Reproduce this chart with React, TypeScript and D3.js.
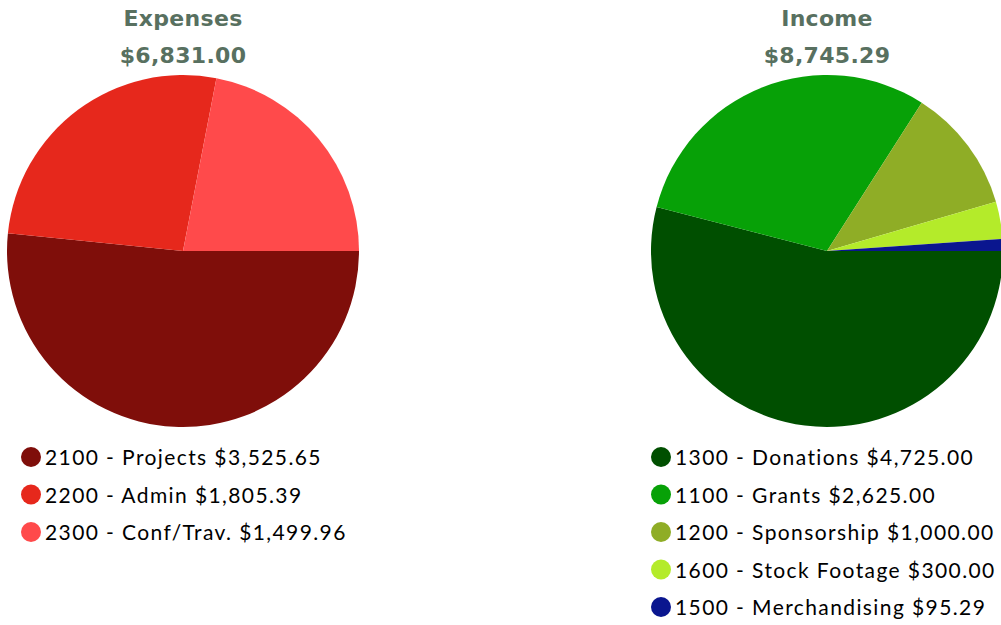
import React from "react";
import * as d3 from "d3";

const expenseLabels = ["2100 - Projects", "2200 - Admin", "2300 - Conf/Trav."];
const expenseValues = [3525.65, 1805.39, 1499.96];
const expenseColors = ["#7f0e0a", "#e6281c", "#ff4a4b"];

const incomeLabels = ["1300 - Donations", "1100 - Grants", "1200 - Sponsorship", "1600 - Stock Footage", "1500 - Merchandising"];
const incomeValues = [4725.0, 2625.0, 1000.0, 300.0, 95.29];
const incomeColors = ["#004f00", "#07a107", "#8fad26", "#b4eb2a", "#0a168f"];

const fmt = d3.format("$,.2f");

type PieProps = {
  title: string;
  labels: string[];
  values: number[];
  colors: string[];
  cx: number;
  legendX: number;
};

function Pie({ title, labels, values, colors, cx, legendX }: PieProps) {
  const cy = 251;
  const r = 176;
  const total = d3.sum(values);
  const pie = d3
    .pie<number>()
    .sort(null)
    .startAngle(Math.PI / 2)
    .endAngle(Math.PI / 2 + 2 * Math.PI);
  const arcs = pie(values);
  const arc = d3.arc<d3.PieArcDatum<number>>().innerRadius(0).outerRadius(r);
  const legendY = d3.scalePoint<number>().domain(d3.range(5)).range([457, 457 + 4 * 37.5]);
  const titleStyle = { letterSpacing: "0.3px" };
  return (
    <g>
      <text x={cx} y={26} textAnchor="middle" fontFamily="'DejaVu Sans', sans-serif" fontWeight={700} fontSize={22} fill="#587060" style={titleStyle}>
        {title}
      </text>
      <text x={cx} y={63} textAnchor="middle" fontFamily="'DejaVu Sans', sans-serif" fontWeight={700} fontSize={22} fill="#587060" style={titleStyle}>
        {fmt(total)}
      </text>
      <g transform={`translate(${cx},${cy})`}>
        {arcs.map((a, i) => (
          <path key={i} d={arc(a) || ""} fill={colors[i]} />
        ))}
      </g>
      {labels.map((l, i) => (
        <g key={l} transform={`translate(${legendX},${legendY(i)})`}>
          <circle cx={0} cy={0} r={10} fill={colors[i]} />
          <text x={14} y={8} fontFamily="Lato, 'DejaVu Sans', sans-serif" fontSize={21} fill="#000" style={{ letterSpacing: "1.4px" }}>
            {`${l} ${fmt(values[i])}`}
          </text>
        </g>
      ))}
    </g>
  );
}

export default function App() {
  return (
    <svg width={1001} height={625} style={{ position: "absolute", left: 0, top: 0, background: "#fff" }}>
      <Pie title="Expenses" labels={expenseLabels} values={expenseValues} colors={expenseColors} cx={183} legendX={31} />
      <Pie title="Income" labels={incomeLabels} values={incomeValues} colors={incomeColors} cx={827} legendX={661} />
    </svg>
  );
}
